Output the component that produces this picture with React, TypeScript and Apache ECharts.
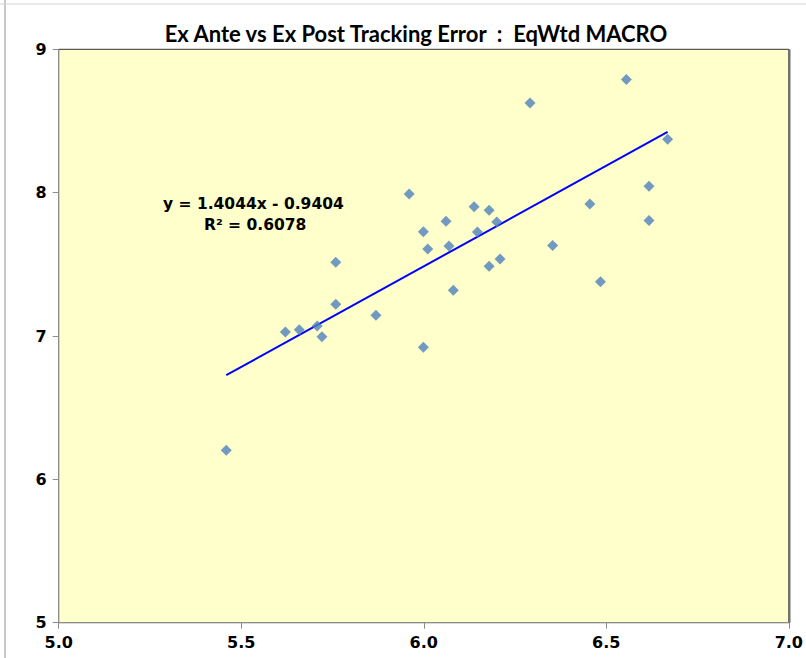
import React, { useEffect, useRef } from "react";
import * as echarts from "echarts";

const exAnte: number[] = [
  5.459, 5.621, 5.659, 5.708, 5.721, 5.759, 5.759, 5.869, 5.960, 5.999,
  5.999, 6.011, 6.061, 6.069, 6.081, 6.138, 6.147, 6.179, 6.179, 6.200,
  6.209, 6.291, 6.353, 6.455, 6.484, 6.555, 6.617, 6.617, 6.668,
];
const exPost: number[] = [
  6.203, 7.028, 7.044, 7.070, 6.995, 7.514, 7.221, 7.144, 7.991, 7.728,
  6.921, 7.607, 7.800, 7.628, 7.319, 7.902, 7.725, 7.877, 7.486, 7.795,
  7.537, 8.625, 7.632, 7.921, 7.378, 8.790, 8.045, 7.806, 8.372,
];
const slope = 1.4044;
const intercept = -0.9404;
const rSquared = "0.6078";
const xTicks = [5.0, 5.5, 6.0, 6.5, 7.0];
const yTicks = [5, 6, 7, 8, 9];

export default function App() {
  const ref = useRef<HTMLDivElement>(null);
  useEffect(() => {
    document.body.style.margin = "0";
    const chart = echarts.init(ref.current!, null, { renderer: "svg" });
    const points = exAnte.map((x, i) => [x, exPost[i]]);
    const xMin = Math.min(...exAnte);
    const xMax = Math.max(...exAnte);
    const trend = [
      [xMin, slope * xMin + intercept],
      [xMax, slope * xMax + intercept],
    ];
    const tickFont = {
      fontFamily: "DejaVu Sans",
      fontWeight: "bold" as const,
      fontSize: 16,
      color: "#000",
    };
    chart.setOption({
      animation: false,
      backgroundColor: "#ffffff",
      title: {
        text: "Ex Ante vs Ex Post Tracking Error  :  EqWtd MACRO",
        left: 411,
        top: 17,
        textAlign: "center",
        textStyle: {
          fontFamily: "Lato",
          fontWeight: "bold",
          fontSize: 22,
          color: "#000",
        },
      },
      grid: {
        left: 58.7,
        top: 49.3,
        right: 17,
        bottom: 35.3,
        show: true,
        backgroundColor: "#FFFFCC",
        borderColor: "#333",
        borderWidth: 1,
      },
      xAxis: {
        type: "value",
        min: xTicks[0],
        max: xTicks[xTicks.length - 1],
        interval: 0.5,
        axisLine: { show: true, onZero: false, lineStyle: { color: "#8c8c8c", width: 1 } },
        axisTick: { show: true, length: 6, lineStyle: { color: "#8c8c8c" } },
        splitLine: { show: false },
        axisLabel: {
          ...tickFont,
          margin: 12,
          formatter: (v: number) => v.toFixed(1),
        },
      },
      yAxis: {
        type: "value",
        min: yTicks[0],
        max: yTicks[yTicks.length - 1],
        interval: 1,
        axisLine: { show: true, onZero: false, lineStyle: { color: "#8c8c8c", width: 1 } },
        axisTick: { show: true, length: 6, lineStyle: { color: "#8c8c8c" } },
        splitLine: { show: false },
        axisLabel: { ...tickFont, margin: 12 },
      },
      graphic: [
        {
          type: "line",
          shape: { x1: 5, y1: 0, x2: 5, y2: 658 },
          style: { stroke: "#c8c8c8", lineWidth: 2 },
        },
        {
          type: "line",
          shape: { x1: 0, y1: 4, x2: 806, y2: 4 },
          style: { stroke: "#d4d4d4", lineWidth: 1 },
        },
        {
          type: "line",
          shape: { x1: 789.5, y1: 49.3, x2: 789.5, y2: 623 },
          style: { stroke: "#707070", lineWidth: 2 },
        },
        {
          type: "text",
          left: 163,
          top: 196,
          style: {
            text: `y = ${slope.toFixed(4)}x - ${Math.abs(intercept).toFixed(4)}`,
            font: "bold 15.5px 'DejaVu Sans'",
            fill: "#000",
          },
        },
        {
          type: "text",
          left: 204,
          top: 217,
          style: {
            text: `R² = ${rSquared}`,
            font: "bold 15.5px 'DejaVu Sans'",
            fill: "#000",
          },
        },
      ],
      series: [
        {
          type: "line",
          data: trend,
          symbol: "none",
          lineStyle: { color: "#0000FF", width: 2 },
          z: 2,
        },
        {
          type: "scatter",
          data: points,
          symbol: "diamond",
          symbolSize: 11,
          itemStyle: { color: "#4F81BD" },
          z: 3,
        },
      ],
    });
    return () => chart.dispose();
  }, []);
  return <div ref={ref} style={{ width: 806, height: 658 }} />;
}
